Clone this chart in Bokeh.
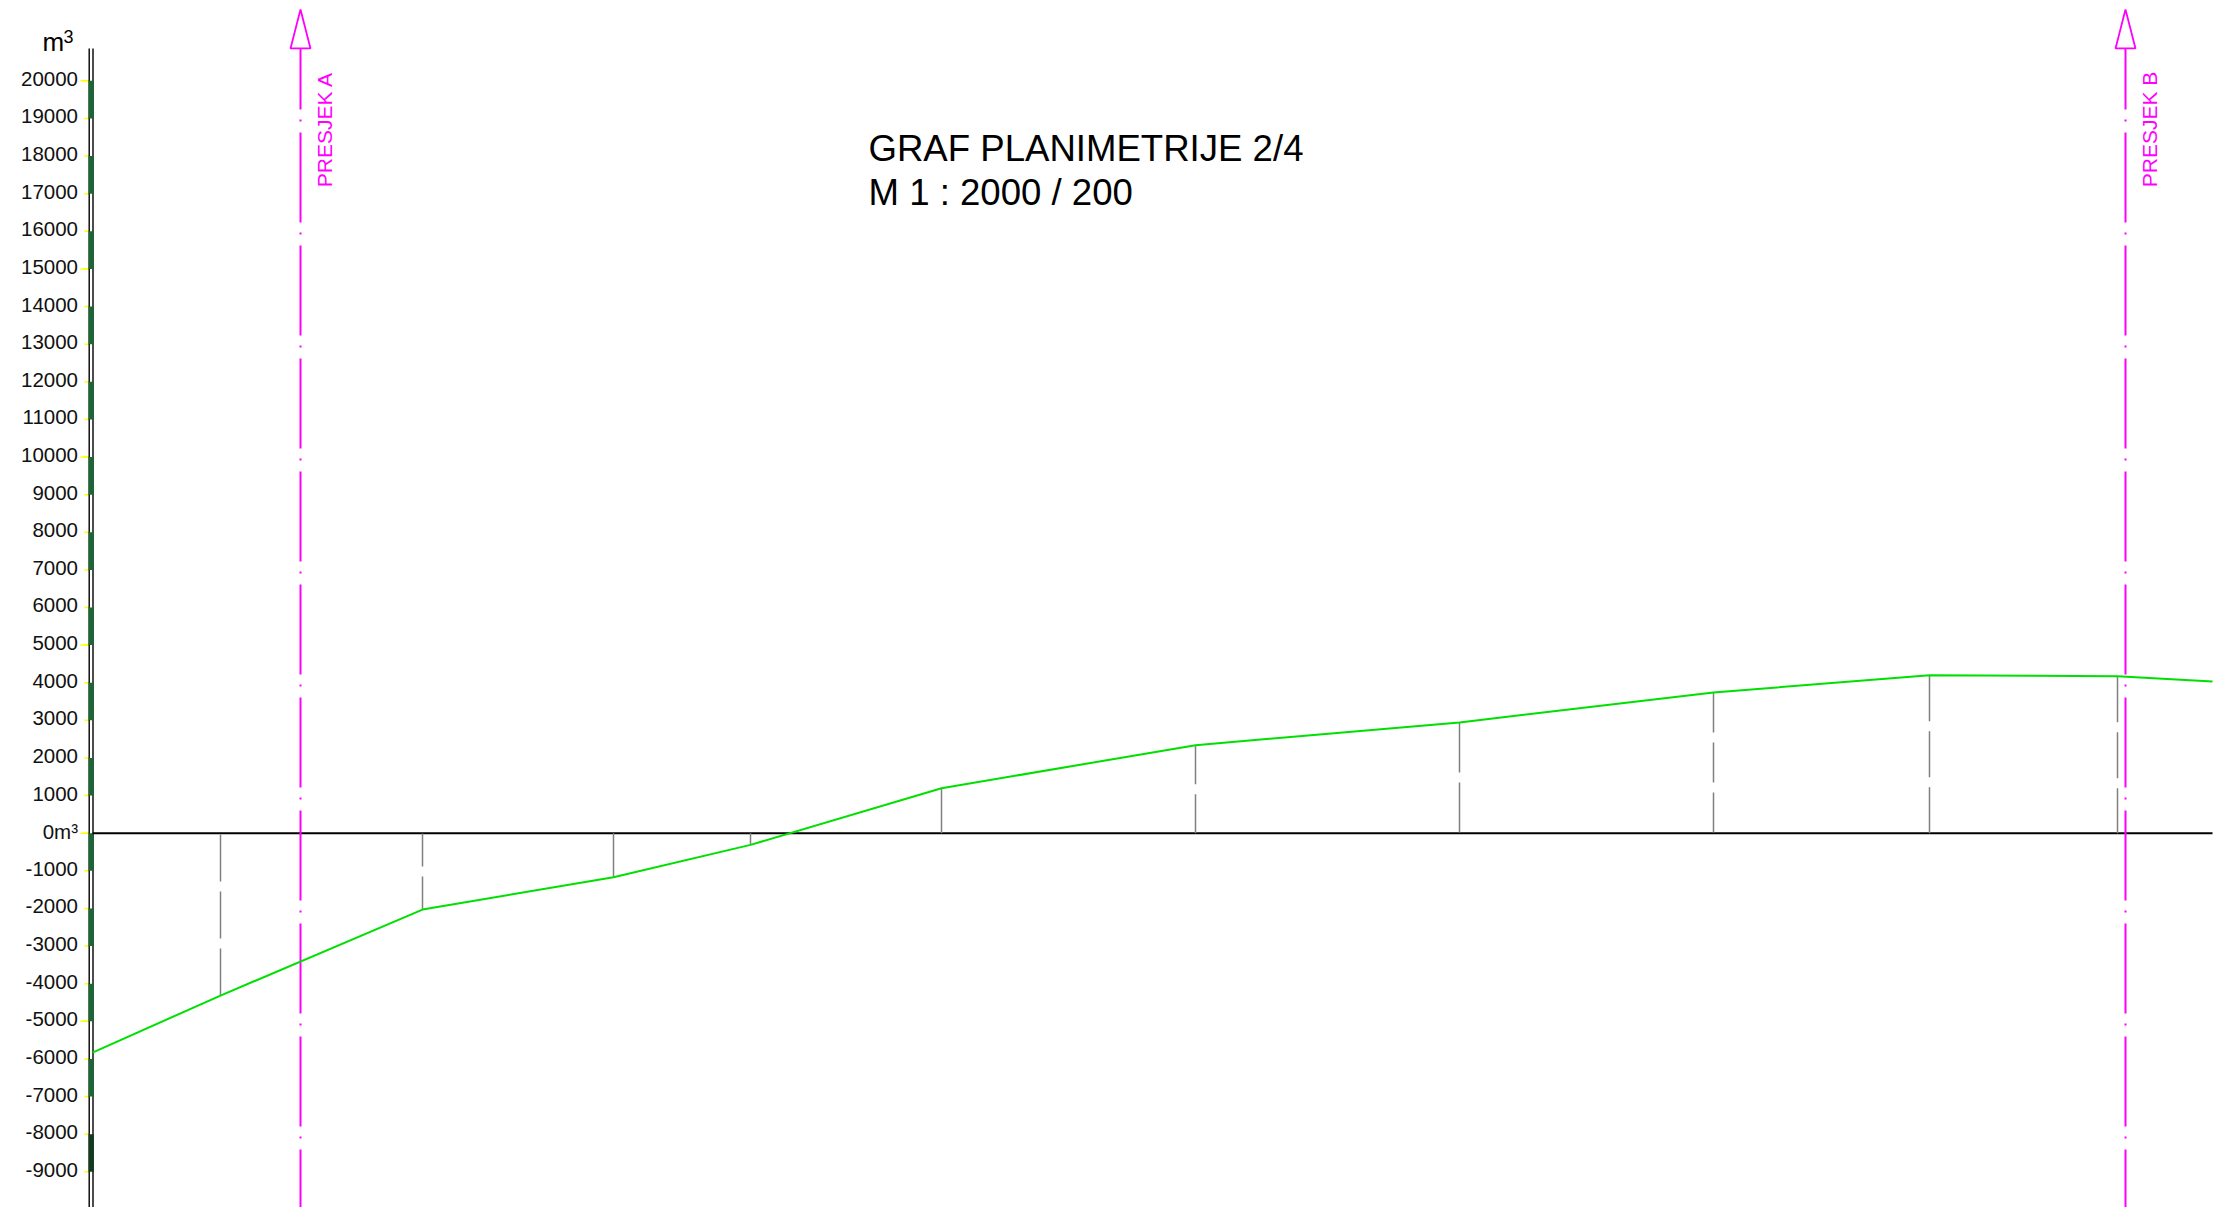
import math
from bokeh.plotting import figure
from bokeh.models import Range1d
from bokeh.core.properties import value
from bokeh.embed import file_html
from bokeh.resources import INLINE

# ---------------- data ----------------
stations = [0, 128, 330, 521, 658, 849, 1103, 1367, 1621, 1837, 2025, 2120]
volumes = [-5830, -4315, -2030, -1170, -310, 1195, 2340, 2945, 3740, 4200, 4175, 4030]
section_names = ["PRESJEK A", "PRESJEK B"]
section_stations = [208, 2033]
y_ticks = list(range(-9000, 20001, 1000))
y_tick_labels = ["0m³" if t == 0 else str(t) for t in y_ticks]
y_long_ticks = list(range(-5000, 20001, 5000))
title_lines = ["GRAF PLANIMETRIJE 2/4", "M 1 : 2000 / 200"]
unit_main = "m"
unit_sup = "3"

# ---------------- layout / style ----------------
W, H = 2228, 1207
X0, X1 = -92, 2136
Y0, Y1 = -9949, 22135
PX_PER_Y = H / (Y1 - Y0)
GUIDE_TOP = 20860
ARROW_TIP = 21895
LABEL_NUDGE = 2 / PX_PER_Y          # 2 px upward, in data units
FONT = "Liberation Sans"
MAGENTA = "#ff00ff"
GREEN = "#00e000"
GRAY = "#808080"
YELLOW = "#ffff00"

p = figure(width=W, height=H, x_range=Range1d(X0, X1), y_range=Range1d(Y0, Y1),
           output_backend="svg", toolbar_location=None,
           x_axis_location=None, y_axis_location=None,
           min_border_left=0, min_border_right=0, min_border_top=0, min_border_bottom=0,
           background_fill_color="white", border_fill_color="white",
           outline_line_color=None)
p.xgrid.visible = False
p.ygrid.visible = False

# ---- vertical scale (axis) ----
p.segment(x0=[-8] * len(y_ticks), y0=y_ticks, x1=[-3] * len(y_ticks), y1=y_ticks,
          line_color=YELLOW, line_width=1.5)
p.segment(x0=[-12] * len(y_long_ticks), y0=y_long_ticks, x1=[-3] * len(y_long_ticks),
          y1=y_long_ticks, line_color=YELLOW, line_width=1.5)
p.text(x=[-14.5] * len(y_ticks), y=[t + LABEL_NUDGE for t in y_ticks], text=y_tick_labels,
       text_align="right", text_baseline="middle", text_font=value(FONT),
       text_font_size="20.5px", text_color="#111111")
p.segment(x0=[-3.3, 0.5], y0=[GUIDE_TOP, GUIDE_TOP], x1=[-3.3, 0.5], y1=[Y0 - 1000, Y0 - 1000],
          line_color="black", line_width=1.4)
block_tops = y_ticks[::-1][::2]
block_bottoms = [t - 1000 for t in block_tops]
block_colors = ["#1b6634"] * (len(block_tops) - 1) + ["#123a20"]
p.quad(left=-3.9, right=1.3, top=block_tops, bottom=block_bottoms,
       fill_color=block_colors, line_color=None)

# unit label
p.text(x=[-50], y=[21026], text=[unit_main], text_align="left", text_baseline="middle",
       text_font=value(FONT), text_font_size="26px", text_color="black")
p.text(x=[-29], y=[21191], text=[unit_sup], text_align="left", text_baseline="middle",
       text_font=value(FONT), text_font_size="18px", text_color="black")

# zero line
p.line(x=[stations[0], stations[-1]], y=[0, 0], line_color="black", line_width=2)

# gray verticals at vertices
gap = 10
for s, v in zip(stations[1:-1], volumes[1:-1]):
    L = abs(v) * PX_PER_Y
    n = max(1, round((L + gap) / (45 + gap)))
    if n == 1:
        dash = "solid"
    else:
        d = (L - (n - 1) * gap) / n
        dash = f"{int(round(d))} {gap}"
    p.segment(x0=[s], y0=[v], x1=[s], y1=[0], line_color=GRAY, line_width=1.5, line_dash=dash)

# section lines
for name, s in zip(section_names, section_stations):
    p.segment(x0=[s], y0=[GUIDE_TOP], x1=[s], y1=[Y0 - 1000], line_color=MAGENTA,
              line_width=2, line_dash="90 10 2 11", line_dash_offset=29)
    p.patch(x=[s - 10, s + 10, s, s - 10], y=[GUIDE_TOP, GUIDE_TOP, ARROW_TIP, GUIDE_TOP],
            fill_alpha=0, line_color=MAGENTA, line_width=1.8)
    p.text(x=[s + 24], y=[17170], text=[name], angle=math.pi / 2,
           text_align="left", text_baseline="middle",
           text_font=value(FONT), text_font_size="21px", text_color=MAGENTA)

# volume line
p.line(x=stations, y=volumes, line_color=GREEN, line_width=2)

# title
p.text(x=[776, 776], y=[18206, 17038], text=title_lines, text_align="left",
       text_baseline="middle", text_font=value(FONT), text_font_size="36.6px",
       text_color="black")

open("out.html", "w").write(file_html(p, INLINE))
